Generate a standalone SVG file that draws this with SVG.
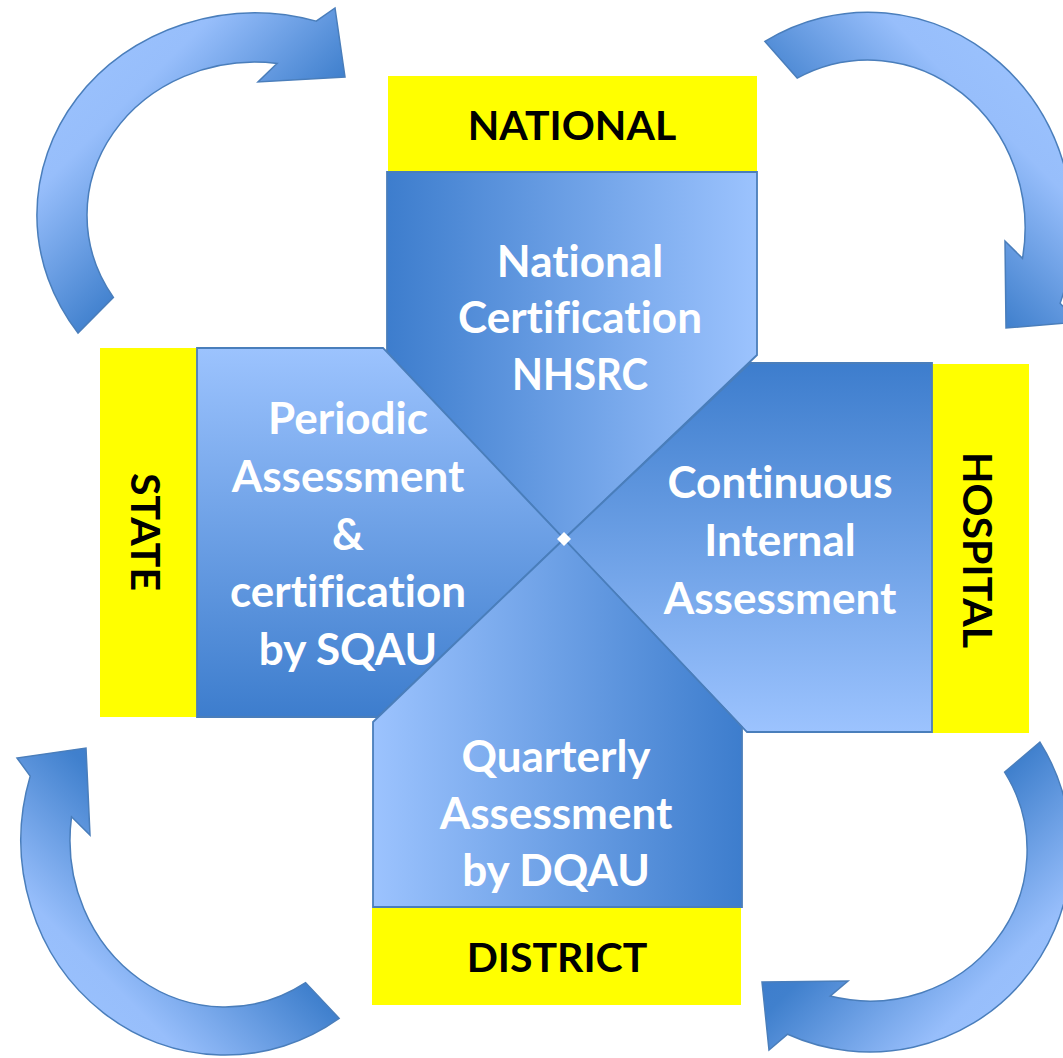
<svg xmlns="http://www.w3.org/2000/svg" width="1063" height="1058" viewBox="0 0 1063 1058">
  <defs>
    <style>
      .panel { stroke: #4a7ebb; stroke-width: 1.8; stroke-linejoin: miter; }
      .tag { fill: #ffff00; }
      .body { font-family: "Lato", "Liberation Sans", sans-serif; font-weight: bold; font-size: 44px; fill: #ffffff; text-anchor: middle; font-variant-ligatures: none; font-feature-settings: "liga" 0, "dlig" 0; }
      .tagtext { font-family: "Lato", "Liberation Sans", sans-serif; font-weight: bold; font-size: 41px; fill: #000000; text-anchor: middle; font-variant-ligatures: none; }
      .arrow { stroke: #4a7ebb; stroke-width: 1.5; stroke-linejoin: miter; }
    </style>
    <!-- panel fills: dark blue to pale blue -->
    <linearGradient id="gTop" x1="0" y1="0" x2="1" y2="0">
      <stop offset="0" stop-color="#3d7dcd"/>
      <stop offset="1" stop-color="#9cc3fe"/>
    </linearGradient>
    <linearGradient id="gLeft" x1="0" y1="0" x2="0" y2="1">
      <stop offset="0" stop-color="#9cc3fe"/>
      <stop offset="1" stop-color="#3d7dcd"/>
    </linearGradient>
    <linearGradient id="gRight" x1="0" y1="0" x2="0" y2="1">
      <stop offset="0" stop-color="#3d7dcd"/>
      <stop offset="1" stop-color="#9cc3fe"/>
    </linearGradient>
    <linearGradient id="gBottom" x1="0" y1="0" x2="1" y2="0">
      <stop offset="0" stop-color="#9cc3fe"/>
      <stop offset="1" stop-color="#3d7dcd"/>
    </linearGradient>
    <!-- curved arrow fills: pale on the outer bend, dark at both ends -->
    <linearGradient id="gA1" gradientUnits="userSpaceOnUse" x1="60" y1="40" x2="260" y2="240">
      <stop offset="0" stop-color="#9cc3fe"/>
      <stop offset="0.32" stop-color="#97befb"/>
      <stop offset="0.8" stop-color="#4080cd"/>
      <stop offset="1" stop-color="#3b7acb"/>
    </linearGradient>
    <linearGradient id="gA2" gradientUnits="userSpaceOnUse" x1="1040" y1="40" x2="840" y2="240">
      <stop offset="0" stop-color="#9cc3fe"/>
      <stop offset="0.32" stop-color="#97befb"/>
      <stop offset="0.8" stop-color="#4080cd"/>
      <stop offset="1" stop-color="#3b7acb"/>
    </linearGradient>
    <linearGradient id="gA3" gradientUnits="userSpaceOnUse" x1="40" y1="1040" x2="240" y2="840">
      <stop offset="0" stop-color="#9cc3fe"/>
      <stop offset="0.32" stop-color="#97befb"/>
      <stop offset="0.8" stop-color="#4080cd"/>
      <stop offset="1" stop-color="#3b7acb"/>
    </linearGradient>
    <linearGradient id="gA4" gradientUnits="userSpaceOnUse" x1="1060" y1="1040" x2="860" y2="840">
      <stop offset="0" stop-color="#9cc3fe"/>
      <stop offset="0.32" stop-color="#97befb"/>
      <stop offset="0.8" stop-color="#4080cd"/>
      <stop offset="1" stop-color="#3b7acb"/>
    </linearGradient>
  </defs>

  <rect width="1063" height="1058" fill="#ffffff"/>

  <!-- circular arrows linking the four levels (elliptical bands with a barbed head) -->
  <g id="connectors">
    <path id="arrow-state-national" class="arrow" fill="url(#gA1)"
          d="M78,333 A218,202 0 0 1 316.2,21.1 L335,8 L345,77 L258,82 L277.2,63.4 A168,153 0 0 0 113.4,297.4 Z"/>
    <path id="arrow-national-hospital" class="arrow" fill="url(#gA2)"
          d="M764.9,41.4 A205,216 0 0 1 1060.1,303.3 L1078,322 L1006,328 L1005,241 L1022.5,258.4 A157,168 0 0 0 797.2,78.1 Z"/>
    <path id="arrow-hospital-district" class="arrow" fill="url(#gA4)"
          d="M1039.9,742.1 A201,202 0 0 1 787.6,1034.2 L769,1050 L762,982 L848,981 L830.1,996.1 A157,151 0 0 0 1004.6,772.2 Z"/>
    <path id="arrow-district-state" class="arrow" fill="url(#gA3)"
          d="M339.1,1018.3 A204,215 0 0 1 30.2,776.1 L17,758 L86,748 L90,835 L71.5,816.8 A155,167 0 0 0 305.6,982.6 Z"/>
  </g>

  <!-- NATIONAL -->
  <g id="national">
    <rect class="tag" x="388" y="76" width="369" height="96"/>
    <text class="tagtext" x="572" y="140">NATIONAL</text>
    <polygon class="panel" fill="url(#gTop)" points="387,172 757,172 757,355 564,539 387,352"/>
    <text class="body" x="580" y="277">National</text>
    <text class="body" x="580" y="333">Certification</text>
    <text class="body" x="580" y="390" textLength="136" lengthAdjust="spacingAndGlyphs">NHSRC</text>
  </g>

  <!-- STATE -->
  <g id="state">
    <rect class="tag" x="100" y="348" width="97" height="369"/>
    <text class="tagtext" transform="translate(131,532) rotate(90)" x="0" y="0">STATE</text>
    <polygon class="panel" fill="url(#gLeft)" points="197,348 383,348 564,539 378,717 197,717"/>
    <text class="body" x="348" y="434">Periodic</text>
    <text class="body" x="348" y="492">Assessment</text>
    <text class="body" x="348" y="550">&amp;</text>
    <text class="body" x="348" y="607">certification</text>
    <text class="body" x="348" y="665">by SQAU</text>
  </g>

  <!-- HOSPITAL -->
  <g id="hospital">
    <rect class="tag" x="932" y="364" width="97" height="369"/>
    <text class="tagtext" transform="translate(963,550) rotate(90)" x="0" y="0">HOSPITAL</text>
    <polygon class="panel" fill="url(#gRight)" points="750,363 932,363 932,732 747,732 564,539"/>
    <text class="body" x="780" y="498">Continuous</text>
    <text class="body" x="780" y="556">Internal</text>
    <text class="body" x="780" y="614">Assessment</text>
  </g>

  <!-- DISTRICT -->
  <g id="district">
    <rect class="tag" x="372" y="908" width="369" height="97"/>
    <text class="tagtext" x="557" y="972">DISTRICT</text>
    <polygon class="panel" fill="url(#gBottom)" points="373,722 564,539 742,727 742,907 373,907"/>
    <text class="body" x="556" y="772">Quarterly</text>
    <text class="body" x="556" y="829">Assessment</text>
    <text class="body" x="556" y="886">by DQAU</text>
  </g>

  <!-- small open gap where the four panel tips meet -->
  <polygon id="hub-gap" fill="#ffffff" points="564,532 571,539 564,546 557,539"/>
</svg>
